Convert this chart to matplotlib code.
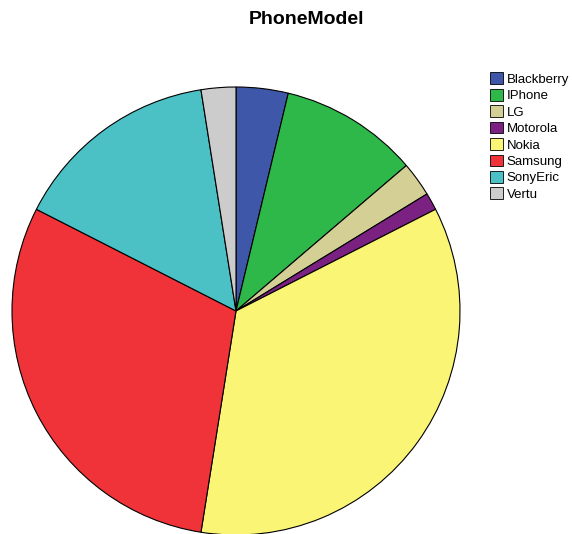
import matplotlib
matplotlib.use('Agg')
import matplotlib.pyplot as plt
from matplotlib.patches import Patch

plt.rcParams['font.family'] = ['Liberation Sans', 'DejaVu Sans']

# phone model counts
models = ['Blackberry', 'IPhone', 'LG', 'Motorola', 'Nokia', 'Samsung', 'SonyEric', 'Vertu']
counts = [3, 8, 2, 1, 28, 24, 12, 2]
colors = ['#3f57a8', '#2fb84a', '#d4cf95', '#7b2182', '#faf575', '#ef3339', '#4bc1c6', '#cccccc']

fig = plt.figure(figsize=(5.72, 5.34), dpi=100)
ax = fig.add_axes([12/572, -1/534, 448/572, 448/534])
ax.pie(counts, colors=colors, startangle=90, counterclock=False,
       wedgeprops=dict(edgecolor='black', linewidth=0.8))
ax.set_xlim(-1.0, 1.0)
ax.set_ylim(-1.0, 1.0)

fig.text(306/572, 1 - 20/534, 'PhoneModel', ha='center', va='center',
         fontsize=14, fontweight='bold')

handles = [Patch(facecolor=c, edgecolor='black', linewidth=0.6) for c in colors]
fig.legend(handles, models, loc='upper left', bbox_to_anchor=(485/572, 1 - 67/534),
           frameon=False, fontsize=9.5, handlelength=1.0, handleheight=1.0,
           handletextpad=0.25, labelspacing=0.23, borderaxespad=0)

fig.savefig('out.png', dpi=100)
